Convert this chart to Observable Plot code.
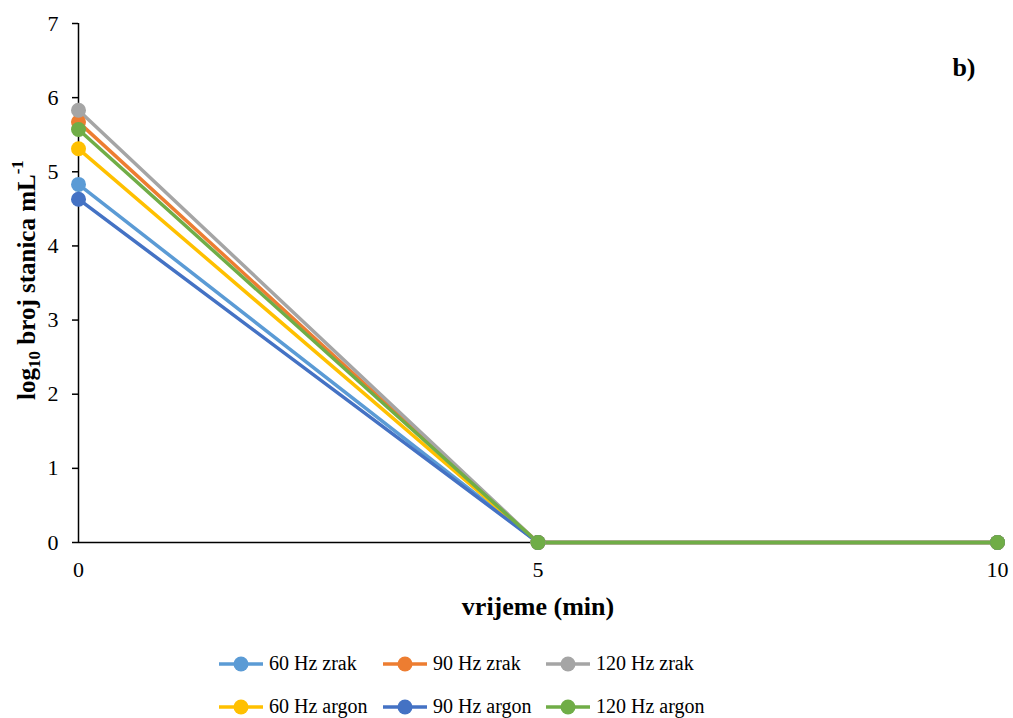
<!DOCTYPE html>
<html>
<head>
<meta charset="utf-8">
<script src="https://cdn.jsdelivr.net/npm/d3@7"></script>
<script src="https://cdn.jsdelivr.net/npm/@observablehq/plot@0.6"></script>
<style>
  body { margin: 0; background: #fff; font-family: 'Liberation Serif', serif; }
  #legend { display: grid; grid-template-columns: 164px 163px auto; margin-left: 218px; padding-top: 12px; }
  .item { display: flex; align-items: center; height: 43px; font-size: 20px; color: #000; white-space: nowrap; font-family: 'Liberation Serif', serif; }
  .item svg { margin-right: 5px; }
</style>
</head>
<body>
<div id="chart"></div>
<div id="legend"></div>
<script>
const times = [0, 5, 10];
const seriesNames = ["60 Hz zrak", "90 Hz zrak", "120 Hz zrak", "60 Hz argon", "90 Hz argon", "120 Hz argon"];
const seriesColors = ["#5B9BD5", "#ED7D31", "#A5A5A5", "#FFC000", "#4472C4", "#70AD47"];
const v60zrak = [4.83, 0, 0];
const v90zrak = [5.67, 0, 0];
const v120zrak = [5.83, 0, 0];
const v60argon = [5.31, 0, 0];
const v90argon = [4.63, 0, 0];
const v120argon = [5.57, 0, 0];
const yTicks = [0, 1, 2, 3, 4, 5, 6, 7];
const xTicks = [0, 5, 10];
const panelLabel = ["b)"];

const allValues = [v60zrak, v90zrak, v120zrak, v60argon, v90argon, v120argon];
const data = [];
seriesNames.forEach((s, i) => times.forEach((t, j) => data.push({series: s, t, v: allValues[i][j]})));

const font = "'Liberation Serif', serif";
const plot = Plot.plot({
  width: 1013,
  height: 630,
  marginTop: 23,
  marginBottom: 88,
  marginLeft: 78,
  marginRight: 16,
  style: {fontFamily: font, fontSize: "22px", color: "#000", background: "#fff"},
  x: {domain: [0, 10], ticks: xTicks, tickSize: 0, tickPadding: 19, label: null, tickFormat: d => String(d)},
  y: {domain: [0, 7], ticks: yTicks, tickSize: 6, tickPadding: 14, label: null, tickFormat: d => String(d)},
  color: {domain: seriesNames, range: seriesColors},
  marks: [
    Plot.ruleY([0], {stroke: "#000", strokeWidth: 1.5}),
    Plot.ruleX([0], {stroke: "#000", strokeWidth: 1.5}),
    Plot.line(data, {x: "t", y: "v", z: "series", stroke: "series", strokeWidth: 3.5}),
    Plot.dot(data, {x: "t", y: "v", fill: "series", r: 7.5, stroke: "none"}),
    Plot.text(panelLabel, {text: d => d, frameAnchor: "top-right", dx: -22, dy: 44, textAnchor: "end", lineAnchor: "middle", fontWeight: "bold", fontSize: 26}),
    Plot.text(["vrijeme (min)"], {text: d => d, frameAnchor: "bottom", dy: 64, lineAnchor: "middle", fontWeight: "bold", fontSize: 26})
  ]
});
document.getElementById("chart").appendChild(plot);

const svg = d3.select(plot);
svg.style("font-family", font);
svg.selectAll("text").style("font-family", font);
svg.selectAll("g[aria-label$='tick label']").style("font-size", "22px").style("font-family", font);
svg.selectAll("g[aria-label$='tick label'] text").style("font-size", "22px").style("font-variant", "normal");
svg.selectAll("g[aria-label$='tick']").attr("stroke", "#000").attr("stroke-width", 1.5);

// y axis label with subscript/superscript
const yl = svg.append("text")
  .attr("transform", "translate(29,280) rotate(-90)")
  .attr("text-anchor", "middle")
  .attr("dominant-baseline", "middle")
  .style("font-family", font)
  .style("font-weight", "bold")
  .style("font-size", "25px")
  .attr("fill", "#000");
yl.append("tspan").text("log");
yl.append("tspan").attr("dy", 7).style("font-size", "17px").text("10");
yl.append("tspan").attr("dy", -7).text(" broj stanica mL");
yl.append("tspan").attr("dy", -10).style("font-size", "17px").text("-1");

// legend
const legend = d3.select("#legend");
seriesNames.forEach((s, i) => {
  const it = legend.append("div").attr("class", "item");
  const sw = it.append("svg").attr("width", 46).attr("height", 20);
  sw.append("line").attr("x1", 1).attr("x2", 45).attr("y1", 10).attr("y2", 10).attr("stroke", seriesColors[i]).attr("stroke-width", 3.5);
  sw.append("circle").attr("cx", 23).attr("cy", 10).attr("r", 7.5).attr("fill", seriesColors[i]);
  it.append("span").style("font-family", font).text(s);
});
</script>
</body>
</html>
